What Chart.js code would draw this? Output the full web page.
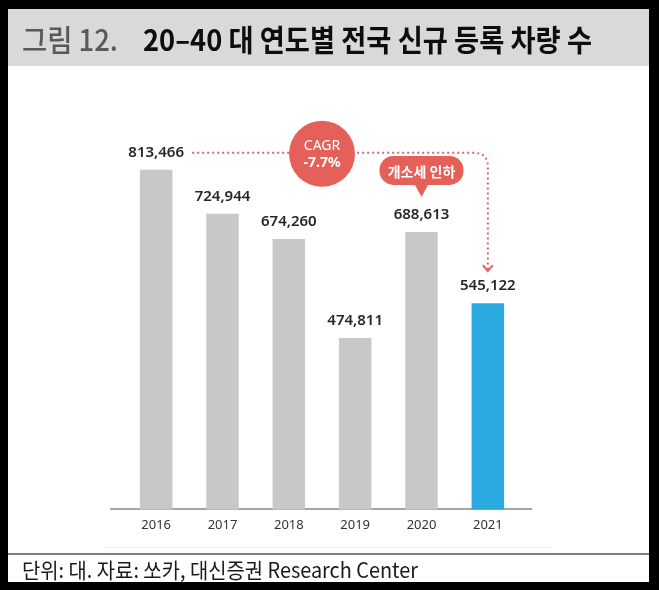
<!DOCTYPE html>
<html>
<head>
<meta charset="utf-8">
<script src="https://cdn.jsdelivr.net/npm/chart.js@4.4.1/dist/chart.umd.min.js"></script>
<style>
  html, body { margin: 0; padding: 0; background: #000; }
  #wrap { width: 659px; height: 590px; }
</style>
</head>
<body>
<div id="wrap"><canvas id="regChart" width="659" height="590"></canvas></div>
<script>
// data
const years = ['2016', '2017', '2018', '2019', '2020', '2021'];
const newRegs = [813466, 724944, 674260, 474811, 688613, 545122];
const valueLabels = ['813,466', '724,944', '674,260', '474,811', '688,613', '545,122'];
const yMin = 130000;
const yMax = 940000;

// texts
const titleNo = '그림 12.';
const titleText = '20–40 대 연도별 전국 신규 등록 차량 수';
const footText = '단위: 대. 자료: 쏘카, 대신증권 Research Center';
const cagrText = ['CAGR', '-7.7%'];
const calloutText = '개소세 인하';

const RED = '#e6605a';
const KR = '"Noto Sans CJK KR", "Noto Sans", sans-serif';

// draw text squeezed into a given width (condensed look)
function fitText(ctx, text, x, y, width){
    let w = ctx.measureText(text).width;
    let sx = Math.min(1, width / w);
    ctx.save();
    ctx.translate(x, y);
    ctx.scale(sx, 1);
    ctx.fillText(text, 0, 0);
    ctx.restore();
}

//  ==================== PAGE / ANNOTATIONS ====================
const pagePlugin = {
    id: 'page',
    beforeDraw(chart){
        const ctx = chart.ctx;
        ctx.save();
        // card
        ctx.fillStyle = '#ffffff';
        ctx.fillRect(8, 9, 641, 573);
        // title band
        ctx.fillStyle = '#d9d9d9';
        ctx.fillRect(8, 9, 641, 57);
        ctx.textBaseline = 'middle';
        ctx.textAlign = 'left';
        ctx.font = '500 30px ' + KR;
        ctx.fillStyle = '#595959';
        fitText(ctx, titleNo, 22, 40, 96);
        ctx.font = '600 30px ' + KR;
        ctx.fillStyle = '#0d0d0d';
        fitText(ctx, titleText, 143, 40, 449);
        // faint line and footer line
        ctx.fillStyle = '#f2f2f2';
        ctx.fillRect(104, 547, 448, 1);
        ctx.fillStyle = '#808080';
        ctx.fillRect(8, 553, 641, 2);
        ctx.font = '21px ' + KR;
        ctx.fillStyle = '#1a1a1a';
        fitText(ctx, footText, 22, 570, 396);
        ctx.restore();
    },
    beforeDatasetsDraw(chart){
        const ctx = chart.ctx;
        const y = chart.scales.y.getPixelForValue(yMin);
        ctx.save();
        ctx.fillStyle = '#a6a6a6';
        ctx.fillRect(110, Math.round(y) - 1, 422, 2);
        ctx.restore();
    },
    afterDatasetsDraw(chart){
        const ctx = chart.ctx;
        const bars = chart.getDatasetMeta(0).data;
        ctx.save();

        // value labels
        ctx.font = '600 15px "Noto Sans", sans-serif';
        ctx.fillStyle = '#262626';
        ctx.textAlign = 'center';
        ctx.textBaseline = 'middle';
        bars.forEach(function(bar, i){
            ctx.fillText(valueLabels[i], bar.x, bar.y - 17);
        });

        // dotted connector 2016 -> 2021
        let b0 = bars[0], b5 = bars[5];
        let lineY = b0.y - 17;
        let x0 = b0.x + 36;
        let x1 = b5.x;
        let tipY = b5.y - 32;
        let r = 14;
        ctx.strokeStyle = '#e0646a';
        ctx.lineWidth = 2;
        ctx.setLineDash([2, 3]);
        ctx.beginPath();
        ctx.moveTo(x0, lineY);
        ctx.lineTo(x1 - r, lineY);
        ctx.quadraticCurveTo(x1, lineY, x1, lineY + r);
        ctx.lineTo(x1, tipY);
        ctx.stroke();
        ctx.setLineDash([]);
        ctx.beginPath();
        ctx.moveTo(x1 - 5, tipY - 6);
        ctx.lineTo(x1, tipY);
        ctx.lineTo(x1 + 5, tipY - 6);
        ctx.stroke();

        // CAGR circle
        let cx = (bars[2].x + bars[3].x) / 2;
        let cy = lineY + 1;
        ctx.fillStyle = RED;
        ctx.beginPath();
        ctx.arc(cx, cy, 33, 0, Math.PI * 2);
        ctx.fill();
        ctx.fillStyle = '#ffffff';
        ctx.font = '14px "Noto Sans", sans-serif';
        ctx.fillText(cagrText[0], cx, cy - 8);
        ctx.font = 'bold 14px "Noto Sans", sans-serif';
        ctx.fillText(cagrText[1], cx, cy + 9);

        // callout above 2020
        let b4 = bars[4];
        let ly = b4.y - 17;
        let top = ly - 59, bot = ly - 30, w = 84;
        ctx.fillStyle = RED;
        ctx.beginPath();
        ctx.roundRect(b4.x - w / 2, top, w, bot - top, 14);
        ctx.fill();
        ctx.beginPath();
        ctx.moveTo(b4.x - 7, bot - 1);
        ctx.lineTo(b4.x + 7, bot - 1);
        ctx.lineTo(b4.x, ly - 18);
        ctx.closePath();
        ctx.fill();
        ctx.fillStyle = '#ffffff';
        ctx.font = 'bold 14px ' + KR;
        ctx.fillText(calloutText, b4.x, (top + bot) / 2 + 1);

        ctx.restore();
    }
};

//  ==================== CHART ====================
let regChartCtx = document.getElementById('regChart');
let regChart = new Chart(regChartCtx, {
    type: 'bar',
    data: {
        labels: years,
        datasets: [
            {
                label: '신규 등록 차량 수',
                data: newRegs,
                backgroundColor: ['#c8c8c8', '#c8c8c8', '#c8c8c8', '#c8c8c8', '#c8c8c8', '#2aa9e0'],
                categoryPercentage: 1,
                barPercentage: 0.49
            }
        ]
    },
    options: {
        responsive: false,
        animation: false,
        devicePixelRatio: 1,
        layout: {
            padding: { left: 123, right: 138, top: 107, bottom: 49 }
        },
        plugins: {
            legend: { display: false },
            tooltip: { enabled: false }
        },
        scales: {
            x: {
                grid: { display: false, drawTicks: false },
                border: { display: false },
                ticks: {
                    color: '#333333',
                    padding: 8,
                    maxRotation: 0,
                    font: { family: '"Noto Sans", sans-serif', size: 13 }
                }
            },
            y: {
                display: false,
                min: yMin,
                max: yMax
            }
        }
    },
    plugins: [pagePlugin]
});
</script>
</body>
</html>
